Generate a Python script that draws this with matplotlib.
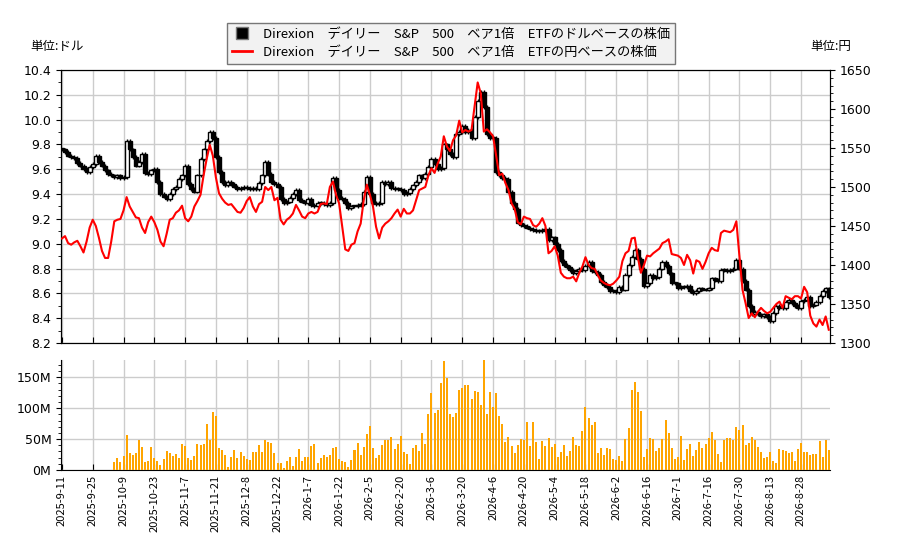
import matplotlib
matplotlib.use("Agg")
import matplotlib.pyplot as plt
from matplotlib.lines import Line2D
from matplotlib.ticker import MultipleLocator, FuncFormatter

# dollar closes, one per trading day
usd_close = [
    9.76, 9.74, 9.71, 9.70, 9.69, 9.65, 9.63, 9.60, 9.58, 9.62,
    9.64, 9.71, 9.66, 9.63, 9.59, 9.56, 9.55, 9.54, 9.55, 9.53,
    9.54, 9.83, 9.76, 9.70, 9.63, 9.66, 9.72, 9.57, 9.56, 9.59,
    9.60, 9.50, 9.40, 9.38, 9.36, 9.40, 9.44, 9.46, 9.52, 9.55,
    9.63, 9.48, 9.44, 9.42, 9.55, 9.68, 9.76, 9.83, 9.90, 9.85,
    9.70, 9.58, 9.50, 9.47, 9.50, 9.48, 9.46, 9.44, 9.45, 9.46,
    9.45, 9.44, 9.45, 9.44, 9.49, 9.55, 9.66, 9.56, 9.50, 9.48,
    9.46, 9.36, 9.33, 9.34, 9.37, 9.40, 9.43, 9.35, 9.34, 9.33,
    9.36, 9.31, 9.30, 9.33, 9.33, 9.32, 9.31, 9.33, 9.53, 9.43,
    9.37, 9.36, 9.33, 9.29, 9.30, 9.30, 9.31, 9.32, 9.42, 9.54,
    9.40, 9.33, 9.32, 9.33, 9.50, 9.48, 9.50, 9.45, 9.44, 9.44,
    9.43, 9.40, 9.41, 9.44, 9.47, 9.50, 9.55, 9.53, 9.56, 9.62,
    9.68, 9.64, 9.60, 9.61, 9.80, 9.76, 9.72, 9.70, 9.88, 9.90,
    9.95, 9.90, 9.92, 9.85, 10.02, 10.15, 10.22, 10.10, 9.88, 9.85,
    9.85, 9.58, 9.55, 9.53, 9.52, 9.42, 9.33, 9.28, 9.17, 9.15,
    9.14, 9.13, 9.12, 9.11, 9.10, 9.10, 9.11, 9.12, 9.03, 9.05,
    9.00, 8.95, 8.86, 8.83, 8.81, 8.79, 8.76, 8.78, 8.80, 8.79,
    8.82, 8.85, 8.78, 8.77, 8.75, 8.69, 8.67, 8.65, 8.62, 8.62,
    8.61, 8.65, 8.63, 8.75, 8.83, 8.89, 8.95, 8.88, 8.80, 8.66,
    8.68, 8.75, 8.72, 8.73, 8.80, 8.85, 8.82, 8.76, 8.68, 8.68,
    8.64, 8.65, 8.65, 8.66, 8.62, 8.60, 8.62, 8.64, 8.63, 8.63,
    8.64, 8.72, 8.71, 8.70, 8.79, 8.79, 8.78, 8.79, 8.80, 8.87,
    8.80, 8.70, 8.63, 8.50, 8.43, 8.45, 8.43, 8.42, 8.43, 8.41,
    8.38, 8.44, 8.50, 8.48, 8.48, 8.53, 8.55, 8.52, 8.50, 8.48,
    8.54, 8.55, 8.57, 8.50, 8.51, 8.53, 8.58, 8.62, 8.64, 8.57,
]

# yen based price
jpy_close = [
    1434, 1437, 1428, 1426, 1429, 1431, 1424, 1416, 1430, 1448,
    1458, 1450, 1435, 1418, 1409, 1409, 1430, 1456, 1458, 1459,
    1470, 1487, 1475, 1468, 1461, 1460, 1448, 1441, 1455, 1462,
    1455, 1445, 1430, 1424, 1440, 1458, 1460, 1467, 1470, 1476,
    1460, 1456, 1462, 1475, 1482, 1490, 1515, 1536, 1554, 1540,
    1512, 1492, 1485, 1480, 1477, 1478, 1473, 1468, 1467, 1473,
    1482, 1487, 1475, 1468, 1478, 1481, 1500, 1496, 1500, 1483,
    1486, 1458, 1452, 1458, 1461, 1466, 1477, 1470, 1462, 1460,
    1466, 1468, 1466, 1468, 1478, 1479, 1478, 1500, 1507, 1490,
    1479, 1450, 1420, 1418, 1426, 1428, 1443, 1453, 1483, 1503,
    1490, 1475, 1449, 1434, 1448, 1453, 1456, 1460, 1466, 1471,
    1462, 1472, 1466, 1466, 1470, 1483, 1496, 1498, 1500, 1515,
    1524, 1518, 1530, 1539, 1565, 1552, 1546, 1560, 1566, 1585,
    1570, 1573, 1571, 1573, 1603, 1634, 1620, 1571, 1574, 1570,
    1565, 1540, 1515, 1517, 1505, 1496, 1479, 1472, 1455, 1452,
    1462, 1460, 1459, 1451, 1449, 1453, 1460, 1450, 1415, 1418,
    1424, 1412, 1390, 1385, 1383, 1383, 1385, 1379, 1390, 1398,
    1410, 1400, 1396, 1395, 1387, 1380, 1377, 1375, 1374, 1376,
    1380, 1385, 1405, 1415, 1418, 1434, 1435, 1410, 1390, 1400,
    1412, 1411, 1415, 1418, 1421, 1428, 1430, 1433, 1414, 1413,
    1412, 1409, 1400, 1413, 1406, 1389, 1406, 1404, 1395, 1404,
    1415, 1422, 1419, 1418, 1441, 1444, 1443, 1442, 1445, 1456,
    1411, 1368, 1351, 1332, 1338, 1333, 1340, 1345, 1341, 1338,
    1340, 1345, 1350, 1353, 1345, 1360, 1358, 1356, 1360, 1360,
    1357, 1372, 1365, 1335, 1325, 1321, 1330, 1323, 1334, 1317,
]

# volume in millions of shares
volume_m = [
    0, 0, 0, 0, 0, 0, 0, 0, 0, 0,
    0, 0, 0, 0, 0, 0, 0, 13, 19, 13,
    22, 57, 28, 24, 28, 49, 37, 13, 15, 37,
    19, 15, 8, 18, 31, 28, 23, 26, 19, 42,
    39, 19, 16, 23, 42, 40, 42, 74, 49, 94,
    87, 36, 32, 24, 5, 21, 32, 19, 29, 23,
    18, 16, 29, 29, 40, 29, 49, 45, 44, 28,
    11, 11, 3, 15, 21, 6, 21, 34, 15, 21,
    21, 39, 42, 11, 19, 24, 21, 24, 36, 37,
    18, 15, 13, 5, 16, 32, 44, 24, 37, 58,
    71, 36, 19, 24, 40, 49, 49, 53, 34, 42,
    55, 29, 26, 10, 36, 40, 31, 60, 42, 91,
    125, 92, 97, 141, 176, 149, 91, 86, 92, 130,
    133, 138, 138, 115, 128, 126, 105, 178, 91, 126,
    102, 125, 87, 74, 45, 53, 39, 28, 40, 50,
    49, 78, 39, 78, 45, 18, 47, 39, 52, 37,
    42, 21, 29, 40, 23, 31, 53, 40, 39, 63,
    102, 84, 73, 78, 28, 36, 24, 36, 34, 18,
    16, 23, 15, 50, 68, 130, 142, 126, 96, 21,
    34, 52, 50, 31, 36, 50, 81, 60, 36, 18,
    21, 55, 16, 34, 42, 23, 32, 45, 36, 42,
    52, 62, 49, 26, 13, 49, 52, 52, 49, 70,
    65, 73, 40, 44, 53, 49, 37, 29, 19, 21,
    29, 15, 11, 34, 32, 31, 28, 29, 15, 34,
    44, 29, 29, 24, 26, 26, 47, 21, 49, 32,
]

date_labels = [
    "2025-9-11", "2025-9-25", "2025-10-9", "2025-10-23", "2025-11-7",
    "2025-11-21", "2025-12-8", "2025-12-22", "2026-1-7", "2026-1-22",
    "2026-2-5", "2026-2-20", "2026-3-6", "2026-3-20", "2026-4-6",
    "2026-4-20", "2026-5-4", "2026-5-18", "2026-6-2", "2026-6-16",
    "2026-7-1", "2026-7-16", "2026-7-30", "2026-8-13", "2026-8-28",
]

JP = ["Noto Sans CJK JP", "DejaVu Sans"]
GRID = "#cccccc"


def main():
    n = len(usd_close)
    x = list(range(n))
    opens = [usd_close[0]] + usd_close[:-1]

    fig = plt.figure(figsize=(9, 5.5), dpi=100)
    ax = fig.add_axes([0.0678, 0.3764, 0.8544, 0.4964])
    axv = fig.add_axes([0.0678, 0.1455, 0.8544, 0.2], sharex=ax)

    # candles
    lows = [min(o, c) for o, c in zip(opens, usd_close)]
    highs = [max(o, c) for o, c in zip(opens, usd_close)]
    heights = [max(h - l, 0.008) for h, l in zip(highs, lows)]
    faces = ["white" if c >= o else "black" for o, c in zip(opens, usd_close)]
    ax.vlines(x, [l - 0.015 for l in lows], [h + 0.015 for h in highs],
              color="black", linewidth=1, zorder=2)
    ax.bar(x, heights, bottom=lows, width=1.3, color=faces,
           edgecolor="black", linewidth=1, zorder=3)

    ax.set_xlim(-0.3, n - 0.6)
    ax.set_ylim(8.2, 10.4)
    ax.yaxis.set_major_locator(MultipleLocator(0.2))
    ax.yaxis.set_minor_locator(MultipleLocator(0.1))
    ax.yaxis.set_major_formatter(FuncFormatter(lambda v, p: f"{v:.1f}"))
    ax.set_xticks(range(0, n, 10))
    ax.tick_params(axis="x", direction="in", labelbottom=False, length=4)
    ax.tick_params(axis="y", labelsize=9)
    ax.grid(True, color=GRID, linewidth=1)
    ax.set_axisbelow(True)

    ax2 = ax.twinx()
    ax2.plot(x, jpy_close, color="red", linewidth=1.5, zorder=5)
    ax2.set_ylim(1300, 1650)
    ax2.yaxis.set_major_locator(MultipleLocator(50))
    ax2.yaxis.set_minor_locator(MultipleLocator(10))
    ax2.tick_params(axis="y", labelsize=9)

    # volume
    axv.bar(x, volume_m, width=0.65, color="#ffa500", zorder=3)
    axv.set_ylim(0, 178)
    axv.yaxis.set_major_locator(MultipleLocator(50))
    axv.yaxis.set_minor_locator(MultipleLocator(10))
    axv.yaxis.set_major_formatter(FuncFormatter(lambda v, p: f"{v:.0f}M"))
    axv.set_xticks(range(0, n, 10))
    axv.set_xticklabels(date_labels, rotation=90, fontsize=8, family=JP)
    axv.tick_params(axis="x", direction="in", length=4)
    axv.tick_params(axis="y", labelsize=9)
    axv.spines["top"].set_visible(False)
    axv.spines["right"].set_visible(False)
    axv.grid(True, color=GRID, linewidth=1)
    axv.set_axisbelow(True)

    fig.text(0.034, 0.916, "単位:ドル", fontsize=9, family=JP, va="center")
    fig.text(0.90, 0.916, "単位:円", fontsize=9, family=JP, va="center")

    handles = [
        Line2D([], [], marker="s", linestyle="none", markersize=8,
               markerfacecolor="black", markeredgecolor="#777777"),
        Line2D([], [], color="red", linewidth=2),
    ]
    labels = [
        "Direxion　デイリー　S&P　500　ベア1倍　ETFのドルベースの株価",
        "Direxion　デイリー　S&P　500　ベア1倍　ETFの円ベースの株価",
    ]
    fig.legend(handles, labels, loc="upper center", bbox_to_anchor=(0.501, 0.971),
               prop={"family": JP, "size": 9.5}, facecolor="#f2f2f2",
               edgecolor="#777777", fancybox=False, framealpha=1,
               handlelength=1.5, borderpad=0.4, labelspacing=0.4)

    fig.savefig("out.png", dpi=100)


if __name__ == "__main__":
    main()
